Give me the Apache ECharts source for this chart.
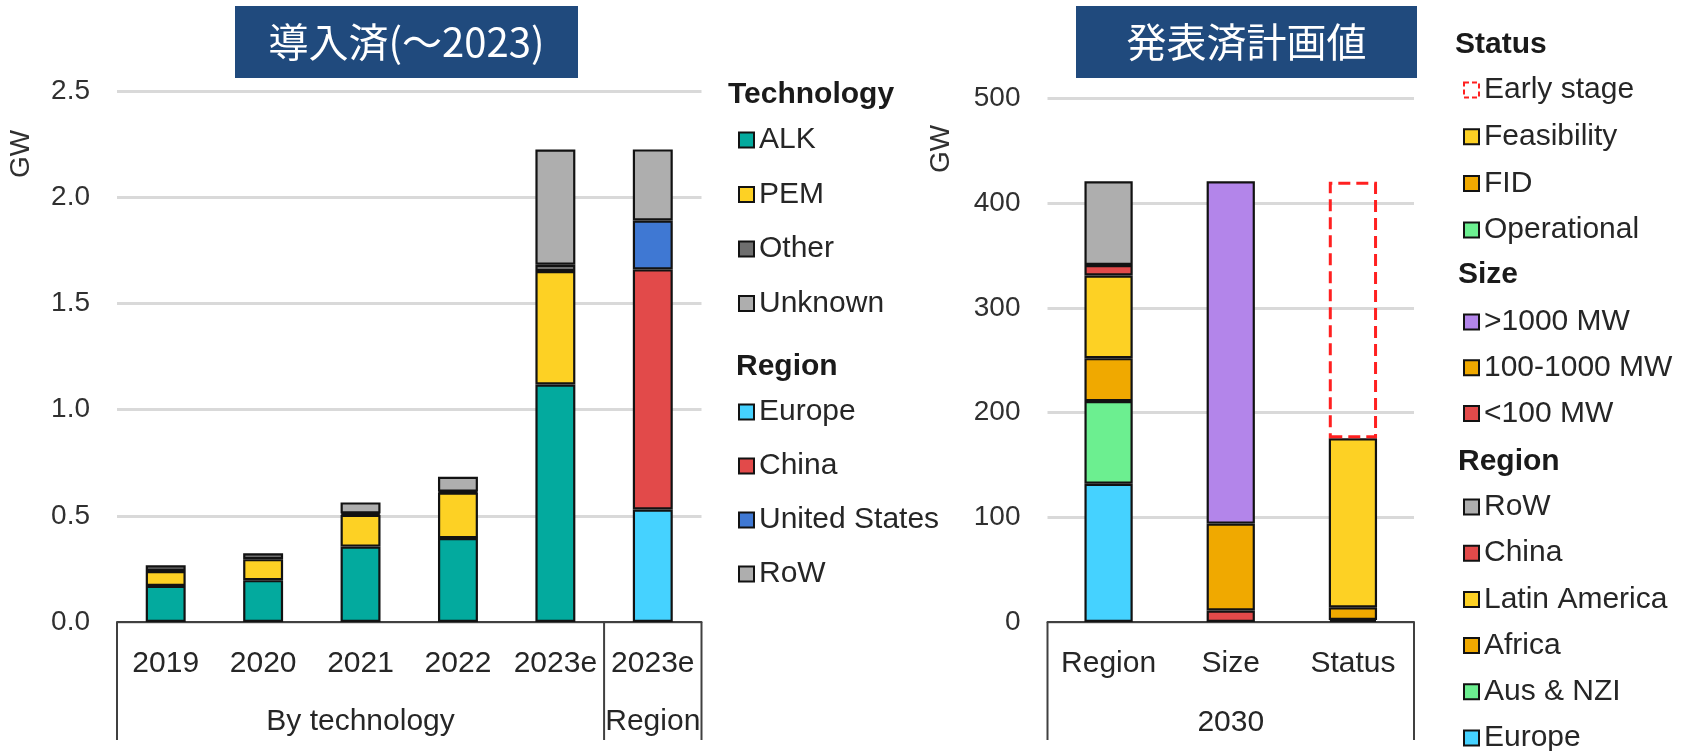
<!DOCTYPE html>
<html>
<head>
<meta charset="utf-8">
<script src="https://cdn.jsdelivr.net/npm/echarts@6/dist/echarts.min.js"></script>
<style>
html,body{margin:0;padding:0;background:#fff;}
#main{width:1695px;height:751px;}
</style>
</head>
<body>
<div id="main"></div>
<script>
// ---------- DATA ----------
const techCats = ['2019', '2020', '2021', '2022', '2023e', '2023e'];
const techGroups = ['By technology', 'Region'];
const alk     = [0.17, 0.197, 0.355, 0.395, 1.118, '-'];
const pem     = [0.07, 0.099, 0.15, 0.215, 0.534, '-'];
const other   = [0.027, 0.028, 0.006, 0.004, 0.03, '-'];
const unknown = ['-', '-', 0.052, 0.07, 0.542, '-'];
const regEurope = ['-', '-', '-', '-', '-', 0.53];
const regChina  = ['-', '-', '-', '-', '-', 1.13];
const regUS     = ['-', '-', '-', '-', '-', 0.23];
const regRoW    = ['-', '-', '-', '-', '-', 0.335];
const leftTicks = [0, 0.5, 1.0, 1.5, 2.0, 2.5];

const planCats = ['Region', 'Size', 'Status'];
const planGroup = '2030';
const pEurope = [132, '-', '-'];
const pAus    = [79, '-', '-'];
const pAfrica = [41, '-', '-'];
const pLatam  = [79, '-', '-'];
const pChina  = [10, '-', '-'];
const pRoW    = [80, '-', '-'];
const sSmall  = ['-', 11, '-'];
const sMid    = ['-', 83, '-'];
const sLarge  = ['-', 327, '-'];
const stOper  = ['-', '-', 2];
const stFid   = ['-', '-', 12];
const stFeas  = ['-', '-', 161.5];
const stEarly = ['-', '-', 245];
const rightTicks = [0, 100, 200, 300, 400, 500];

const titleLeft = '導入済(～2023)';
const titleRight = '発表済計画値';

// ---------- STYLE ----------
const FONT = "'Liberation Sans', Arial, sans-serif";
const CJK = "'Noto Sans CJK JP', sans-serif";
const TXT = '#262626';
const C = {
  teal: '#03aa9e', yellow: '#fdd124', dark: '#6e6e6e', gray: '#aeaeae',
  cyan: '#45d2ff', red: '#e24a4a', blue: '#3f78d3', green: '#6cef90',
  orange: '#f0a900', purple: '#b385ea', early: '#ff2020'
};
const border = '#121212';

function bar(name, data, color, xi, stack, bw) {
  return {
    name, type: 'bar', stack, data, xAxisIndex: xi, yAxisIndex: xi,
    barWidth: bw,
    itemStyle: { color, borderColor: border, borderWidth: 2.2 },
    emphasis: { disabled: true }
  };
}

const series = [
  bar('ALK', alk, C.teal, 0, 'L', '41%'),
  bar('PEM', pem, C.yellow, 0, 'L', '41%'),
  bar('Other', other, C.dark, 0, 'L', '41%'),
  bar('Unknown', unknown, C.gray, 0, 'L', '41%'),
  bar('Europe', regEurope, C.cyan, 0, 'L', '41%'),
  bar('China', regChina, C.red, 0, 'L', '41%'),
  bar('United States', regUS, C.blue, 0, 'L', '41%'),
  bar('RoW', regRoW, C.gray, 0, 'L', '41%'),

  bar('Europe', pEurope, C.cyan, 1, 'R', '39.5%'),
  bar('Aus & NZI', pAus, C.green, 1, 'R', '39.5%'),
  bar('Africa', pAfrica, C.orange, 1, 'R', '39.5%'),
  bar('Latin America', pLatam, C.yellow, 1, 'R', '39.5%'),
  bar('China', pChina, C.red, 1, 'R', '39.5%'),
  bar('RoW', pRoW, C.gray, 1, 'R', '39.5%'),
  bar('<100 MW', sSmall, C.red, 1, 'R', '39.5%'),
  bar('100-1000 MW', sMid, C.orange, 1, 'R', '39.5%'),
  bar('>1000 MW', sLarge, C.purple, 1, 'R', '39.5%'),
  bar('Operational', stOper, C.green, 1, 'R', '39.5%'),
  bar('FID', stFid, C.orange, 1, 'R', '39.5%'),
  bar('Feasibility', stFeas, C.yellow, 1, 'R', '39.5%'),
  {
    name: 'Early stage', type: 'bar', stack: 'R', data: stEarly, xAxisIndex: 1, yAxisIndex: 1,
    barWidth: '39.5%',
    itemStyle: { color: 'rgba(0,0,0,0)', borderColor: C.early, borderWidth: 3, borderType: [12, 6] },
    emphasis: { disabled: true }
  }
];

function legend(items, left, top, gap) {
  return {
    orient: 'vertical', left, top, height: 400, padding: 0, itemGap: gap,
    itemWidth: 15, itemHeight: 15, icon: 'rect', selectedMode: false,
    textStyle: { fontSize: 30, lineHeight: 30, color: TXT, fontFamily: FONT },
    data: items
  };
}

function yAx(gi, max, interval, dec) {
  return {
    type: 'value', gridIndex: gi, min: 0, max, interval,
    axisLine: { show: false }, axisTick: { show: false },
    axisLabel: { fontSize: 28, color: '#303030', fontFamily: FONT, margin: 27,
      formatter: v => dec ? v.toFixed(1) : String(v) },
    splitLine: { lineStyle: { color: '#d9d9d9', width: 3 } }
  };
}
function xAx(gi, data) {
  return {
    type: 'category', gridIndex: gi, data,
    axisLine: { lineStyle: { color: '#404040', width: 2 } },
    axisTick: { show: false },
    axisLabel: { fontSize: 30, color: TXT, fontFamily: FONT, margin: 27, interval: 0 }
  };
}

const option = {
  animation: false,
  backgroundColor: '#fff',
  grid: [
    { left: 117, top: 91, width: 584.5, height: 531 },
    { left: 1047.5, top: 98.5, width: 366.5, height: 523.5 }
  ],
  xAxis: [xAx(0, techCats), xAx(1, planCats)],
  yAxis: [yAx(0, leftTicks[leftTicks.length - 1], leftTicks[1] - leftTicks[0], true),
          yAx(1, rightTicks[rightTicks.length - 1], rightTicks[1] - rightTicks[0], false)],
  legend: [
    legend(['ALK', 'PEM', 'Other', 'Unknown'], 738, 125, 24.5),
    legend(['Europe', 'China', 'United States', 'RoW'], 738, 397, 24),
    legend([{ name: 'Early stage', itemStyle: { color: 'rgba(0,0,0,0)', borderColor: C.early, borderWidth: 2, borderType: [5, 3] } },
            'Feasibility', 'FID', 'Operational'], 1463, 75, 16.7),
    legend(['>1000 MW', '100-1000 MW', '<100 MW'], 1463, 307, 15.8),
    legend(['RoW', 'China', 'Latin America', 'Africa', 'Aus & NZI', 'Europe'], 1463, 492, 16.2)
  ],
  series
};

const chart = echarts.init(document.getElementById('main'), null, { renderer: 'canvas' });
chart.setOption(option);

// ---------- decorations derived from axes ----------
function bandEdges(gi, n) {
  const p = [];
  for (let i = 0; i < n; i++) p.push(chart.convertToPixel({ xAxisIndex: gi }, i));
  const bw = n > 1 ? p[1] - p[0] : 0;
  return { centers: p, bw };
}
const g = [];
function vline(x, y0, y1) {
  g.push({ type: 'line', shape: { x1: x, y1: y0, x2: x, y2: y1 }, style: { stroke: '#404040', lineWidth: 2 }, z: 10 });
}
function txt(text, x, y, opts) {
  g.push(Object.assign({ type: 'text', x, y, z: 10,
    style: Object.assign({ text, fill: TXT, font: '30px ' + FONT, textAlign: 'center', textVerticalAlign: 'middle' }, opts || {}) }));
}
const y0L = chart.convertToPixel({ yAxisIndex: 0 }, 0);
const y0R = chart.convertToPixel({ yAxisIndex: 1 }, 0);
const bottomY = 740;
const L = bandEdges(0, techCats.length);
const lStart = L.centers[0] - L.bw / 2;
const lSplit = (L.centers[4] + L.centers[5]) / 2;
const lEnd = L.centers[5] + L.bw / 2;
vline(lStart, y0L, bottomY); vline(lSplit, y0L, bottomY); vline(lEnd, y0L, bottomY);
txt(techGroups[0], (lStart + lSplit) / 2, 722);
txt(techGroups[1], (lSplit + lEnd) / 2, 722);
const R = bandEdges(1, planCats.length);
const rStart = R.centers[0] - R.bw / 2;
const rEnd = R.centers[2] + R.bw / 2;
vline(rStart, y0R, bottomY); vline(rEnd, y0R, bottomY);
txt(planGroup, (rStart + rEnd) / 2, 723);

// axis names
txt('GW', 21, 154, { font: '28px ' + FONT, fill: '#303030' });
g[g.length - 1].rotation = Math.PI / 2;
txt('GW', 941, 149, { font: '28px ' + FONT, fill: '#303030' });
g[g.length - 1].rotation = Math.PI / 2;

// legend headers
function head(t, x, y) { txt(t, x, y, { font: 'bold 30px ' + FONT, textAlign: 'left', fill: '#1a1a1a' }); }
head('Technology', 728, 95);
head('Region', 736, 367);
head('Status', 1455, 45);
head('Size', 1458, 275);
head('Region', 1458, 462);

// title boxes
function titleBox(t, x1, x2) {
  g.push({ type: 'rect', shape: { x: x1, y: 6, width: x2 - x1, height: 72 }, style: { fill: '#204a7d' }, z: 10 });
  txt(t, (x1 + x2) / 2, 42, { font: '40px ' + CJK, fill: '#ffffff' });
}
titleBox(titleLeft, 235, 578);
titleBox(titleRight, 1076, 1417);

chart.setOption({ graphic: g });
</script>
</body>
</html>
